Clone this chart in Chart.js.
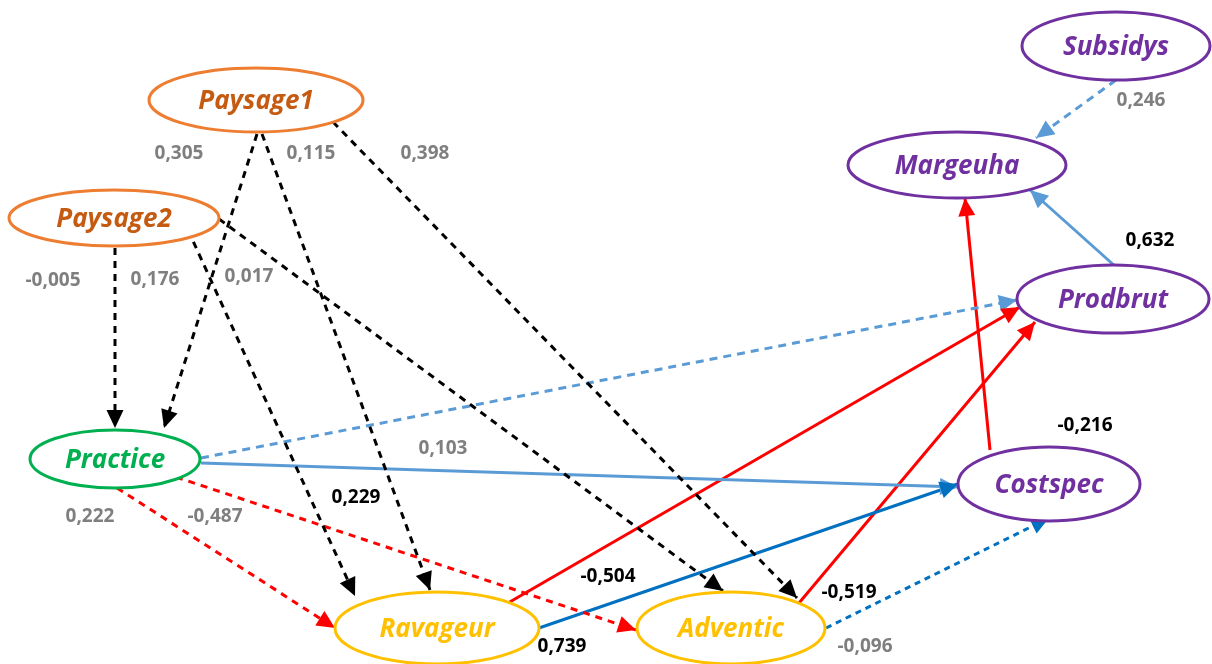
<!DOCTYPE html>
<html>
<head>
<meta charset="utf-8">
<script src="https://cdn.jsdelivr.net/npm/chart.js@4/dist/chart.umd.min.js"></script>
<style>
  html, body { margin: 0; padding: 0; background: #fff; }
  #wrap { width: 1212px; height: 664px; position: relative; }
</style>
</head>
<body>
<div id="wrap"><canvas id="c"></canvas></div>
<script>
// nodes of the path diagram
const nodeNames = ["Paysage1", "Paysage2", "Subsidys", "Margeuha", "Prodbrut", "Practice", "Costspec", "Ravageur", "Adventic"];
const nodeX = [256, 114, 1116, 957, 1113, 115, 1049, 437, 731];
const nodeY = [100, 218, 46, 165, 299, 459, 484, 628, 628];
const nodeRx = [107, 105, 94, 109, 96, 85, 91, 102, 94];
const nodeRy = [32, 28, 34, 33, 34, 29, 37, 36, 36];
const nodeGroup = ["land", "land", "eco", "eco", "eco", "prac", "eco", "bio", "bio"];

// edges: start point, end point, kind
const edgeFromX = [257, 262, 333, 115, 188, 219, 117, 176, 201, 201, 1116, 1116, 539, 826, 508, 799, 990];
const edgeFromY = [134, 134, 122, 248, 230, 219, 488, 477, 458, 463, 267, 80, 628, 628, 603, 603, 450];
const edgeToX = [164, 430, 797, 115, 355, 723, 335, 636, 1017, 958, 1030, 1036, 958, 1049, 1020, 1035, 965];
const edgeToY = [428, 590, 598, 428, 596, 591, 628, 630, 300, 487, 190, 138, 484, 518, 307, 322, 198];
const edgeKind = ["blackDash", "blackDash", "blackDash", "blackDash", "blackDash", "blackDash",
  "redDash", "redDash", "lightDash", "light", "light", "lightDash", "blue", "blueDash", "red", "red", "red"];

// coefficient labels
const coefText = ["0,305", "0,115", "0,398", "-0,005", "0,176", "0,017", "0,222", "-0,487", "0,103", "0,229",
  "0,246", "0,632", "-0,504", "-0,519", "-0,216", "0,739", "-0,096"];
const coefX = [179, 311, 425, 53, 155, 249, 90, 215, 443, 356, 1141, 1150, 608, 849, 1085, 562, 865];
const coefY = [154, 154, 154, 281, 280, 277, 517, 517, 449, 498, 101, 241, 577, 593, 426, 647, 647];
const coefBold = [false, false, false, false, false, false, false, false, false, true,
  false, true, true, true, true, true, false];

const groupStroke = { land: "#ED7D31", eco: "#7030A0", prac: "#00B050", bio: "#FFC000" };
const groupText = { land: "#C55A11", eco: "#7030A0", prac: "#00B050", bio: "#FFC000" };
const kindStyle = {
  blackDash: { color: "#000000", width: 3, dash: [7, 6] },
  redDash: { color: "#FF0000", width: 3, dash: [7, 6] },
  lightDash: { color: "#5B9BD5", width: 3, dash: [8, 6] },
  light: { color: "#5B9BD5", width: 3, dash: [] },
  blue: { color: "#0070C0", width: 3, dash: [] },
  blueDash: { color: "#0070C0", width: 3, dash: [6, 5] },
  red: { color: "#FF0000", width: 3, dash: [] }
};

const datasets = edgeKind.map((k, i) => ({
  data: [{ x: edgeFromX[i], y: edgeFromY[i] }, { x: edgeToX[i], y: edgeToY[i] }],
  showLine: true,
  borderColor: kindStyle[k].color,
  borderWidth: kindStyle[k].width,
  borderDash: kindStyle[k].dash,
  pointRadius: 0,
  fill: false
}));

const diagramPlugin = {
  id: "diagram",
  afterDatasetsDraw(chart) {
    const ctx = chart.ctx;
    const xs = chart.scales.x, ys = chart.scales.y;
    // arrow heads
    edgeKind.forEach((k, i) => {
      const x0 = xs.getPixelForValue(edgeFromX[i]), y0 = ys.getPixelForValue(edgeFromY[i]);
      const x1 = xs.getPixelForValue(edgeToX[i]), y1 = ys.getPixelForValue(edgeToY[i]);
      const a = Math.atan2(y1 - y0, x1 - x0);
      const len = 18, half = 8.5;
      ctx.save();
      ctx.fillStyle = kindStyle[k].color;
      ctx.translate(x1, y1);
      ctx.rotate(a);
      ctx.beginPath();
      ctx.moveTo(0, 0);
      ctx.lineTo(-len, -half);
      ctx.lineTo(-len, half);
      ctx.closePath();
      ctx.fill();
      ctx.restore();
    });
    // ellipses
    nodeNames.forEach((n, i) => {
      const cx = xs.getPixelForValue(nodeX[i]), cy = ys.getPixelForValue(nodeY[i]);
      const rx = Math.abs(xs.getPixelForValue(nodeX[i] + nodeRx[i]) - cx);
      const ry = Math.abs(ys.getPixelForValue(nodeY[i] + nodeRy[i]) - cy);
      ctx.save();
      ctx.beginPath();
      ctx.ellipse(cx, cy, rx, ry, 0, 0, Math.PI * 2);
      ctx.fillStyle = "#ffffff";
      ctx.fill();
      ctx.lineWidth = 3;
      ctx.strokeStyle = groupStroke[nodeGroup[i]];
      ctx.stroke();
      ctx.fillStyle = groupText[nodeGroup[i]];
      ctx.font = "italic bold 26px 'Open Sans', 'Noto Sans', sans-serif";
      ctx.textAlign = "center";
      ctx.textBaseline = "middle";
      ctx.fillText(n, cx, cy + 2);
      ctx.restore();
    });
    // coefficients
    coefText.forEach((t, i) => {
      ctx.save();
      ctx.font = "bold 19px 'Open Sans', 'Noto Sans', sans-serif";
      ctx.fillStyle = coefBold[i] ? "#000000" : "#7F7F7F";
      ctx.textAlign = "center";
      ctx.textBaseline = "middle";
      ctx.fillText(t, xs.getPixelForValue(coefX[i]), ys.getPixelForValue(coefY[i]));
      ctx.restore();
    });
  }
};

new Chart(document.getElementById("c"), {
  type: "scatter",
  data: { datasets },
  options: {
    responsive: true,
    maintainAspectRatio: false,
    animation: false,
    layout: { padding: 0 },
    plugins: { legend: { display: false }, tooltip: { enabled: false } },
    scales: {
      x: { type: "linear", min: 0, max: 1212, display: false },
      y: { type: "linear", min: 0, max: 664, reverse: true, display: false }
    }
  },
  plugins: [diagramPlugin]
});
</script>
</body>
</html>
